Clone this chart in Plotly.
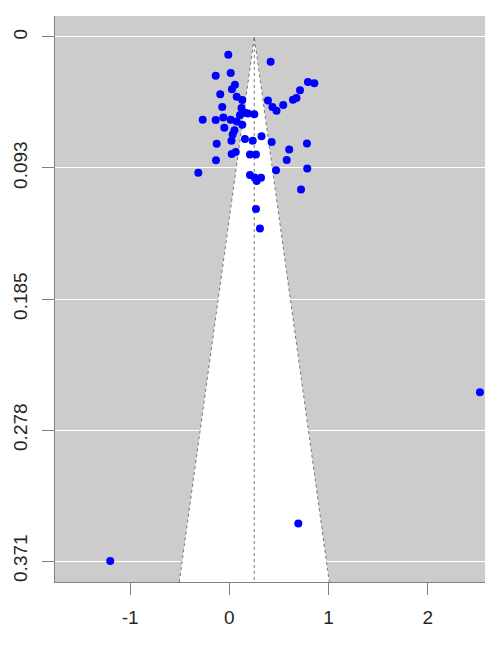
import plotly.graph_objects as go

# Observed effect sizes and their standard errors
effect = [-0.010, 0.417, -0.137, 0.014, 0.057, 0.027, -0.091, 0.075, 0.131, 0.793,
          0.857, 0.713, 0.677, 0.642, 0.544, 0.390, 0.435, 0.476, -0.071, 0.123,
          0.158, 0.108, 0.189, 0.252, -0.268, -0.137, -0.060, 0.014, 0.075, 0.131,
          -0.050, 0.052, 0.034, 0.022, -0.127, 0.158, 0.236, 0.325, 0.427, 0.783,
          0.604, 0.579, 0.786, 0.471, 0.065, 0.024, 0.209, 0.269, -0.134, -0.312,
          0.209, 0.254, 0.320, 0.276, 0.723, 0.269, 0.309, 2.527, 0.696, -1.200]
std_err = [0.0126, 0.0176, 0.0275, 0.0255, 0.0339, 0.0371, 0.0406, 0.0424, 0.0447, 0.0318,
           0.0328, 0.0378, 0.0432, 0.0445, 0.0481, 0.0449, 0.0495, 0.0523, 0.0495, 0.0502,
           0.0536, 0.0552, 0.0541, 0.0548, 0.0586, 0.0587, 0.0571, 0.0586, 0.0598, 0.0622,
           0.0642, 0.0661, 0.0690, 0.0734, 0.0756, 0.0723, 0.0734, 0.0702, 0.0743, 0.0755,
           0.0796, 0.0871, 0.0931, 0.0943, 0.0814, 0.0828, 0.0832, 0.0832, 0.0872, 0.0961,
           0.0977, 0.0995, 0.0997, 0.1019, 0.1080, 0.1217, 0.1356, 0.2515, 0.3444, 0.3710]

pooled_estimate = 0.252
z_crit = 1.96

x_tick_vals = [-1, 0, 1, 2]
x_tick_text = ["-1", "0", "1", "2"]
y_tick_text = ["0", "0.093", "0.185", "0.278", "0.371"]

max_se = max(std_err)
y_tick_vals = [max_se * k / 4 for k in range(5)]
y_pad = max_se * 0.04
y_bottom = max_se + y_pad
y_top = -y_pad

x_left, x_right = -1.757, 2.578

grey = "#cccccc"
line_grey = "#808080"
dot_grey = "#777777"
label_color = "#262626"

fig = go.Figure()

# white pseudo-confidence region
lo = pooled_estimate - z_crit * y_bottom
hi = pooled_estimate + z_crit * y_bottom
fig.add_trace(go.Scatter(
    x=[lo, pooled_estimate, hi, lo], y=[y_bottom, 0, y_bottom, y_bottom],
    mode="lines", fill="toself", fillcolor="white",
    line=dict(width=0), hoverinfo="skip", showlegend=False))

# dotted funnel edges
fig.add_trace(go.Scatter(
    x=[lo, pooled_estimate, hi], y=[y_bottom, 0, y_bottom],
    mode="lines", line=dict(color=dot_grey, width=1, dash="dot"),
    hoverinfo="skip", showlegend=False))

# dotted vertical reference line at the pooled estimate
fig.add_trace(go.Scatter(
    x=[pooled_estimate, pooled_estimate], y=[0, y_bottom],
    mode="lines", line=dict(color=dot_grey, width=1, dash="dot"),
    hoverinfo="skip", showlegend=False))

# study points
fig.add_trace(go.Scatter(
    x=effect, y=std_err, mode="markers",
    marker=dict(color="#0000ff", size=8, line=dict(width=0)),
    showlegend=False))

tick_font = dict(family="Liberation Sans, Arial, sans-serif", size=19, color=label_color)

fig.update_layout(
    width=485, height=655,
    margin=dict(l=55, r=0, t=16, b=73, pad=0),
    paper_bgcolor="white",
    plot_bgcolor=grey,
    xaxis=dict(
        range=[x_left, x_right], tickvals=x_tick_vals, ticktext=x_tick_text,
        showgrid=False, zeroline=False,
        showline=True, linecolor=line_grey, linewidth=1,
        ticks="outside", ticklen=12, tickwidth=1, tickcolor=line_grey,
        tickfont=tick_font, ticklabelstandoff=6),
    yaxis=dict(
        range=[y_bottom, y_top], tickvals=y_tick_vals, ticktext=y_tick_text,
        showgrid=True, gridcolor="white", gridwidth=1.2, zeroline=False,
        showline=True, linecolor=line_grey, linewidth=1,
        ticks="outside", ticklen=12, tickwidth=1, tickcolor=line_grey,
        tickangle=-90, tickfont=tick_font, ticklabelstandoff=7),
)

fig.write_html("out.html")
